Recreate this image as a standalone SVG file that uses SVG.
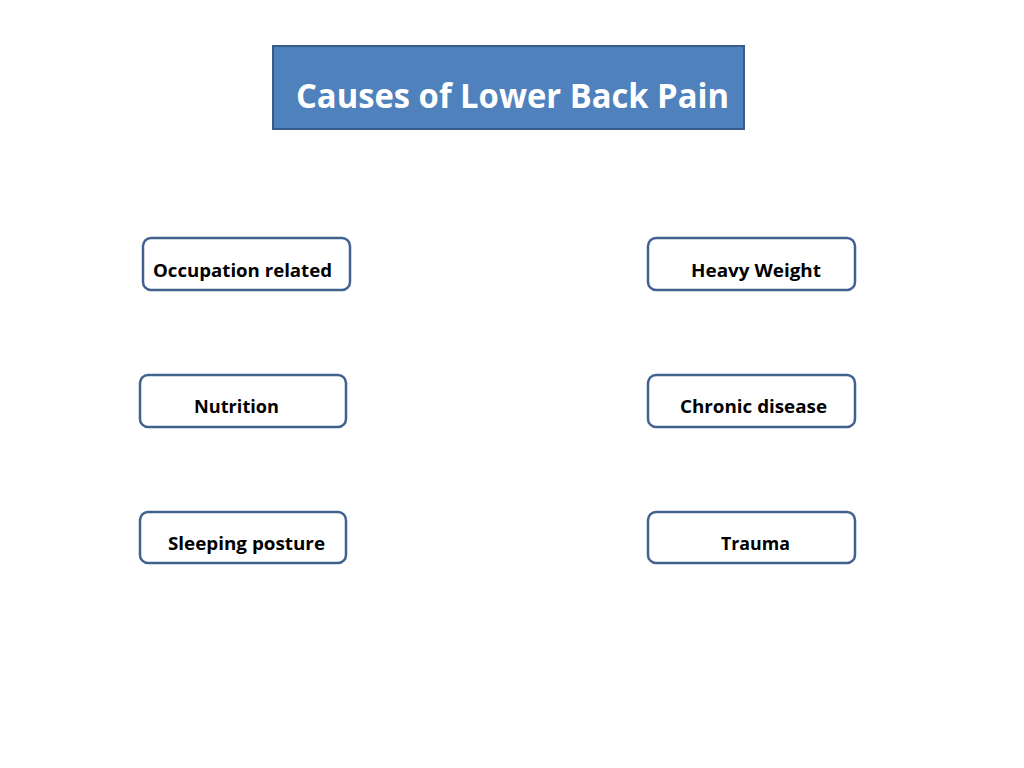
<svg xmlns="http://www.w3.org/2000/svg" width="1024" height="768" viewBox="0 0 1024 768">
<style>
.box{fill:#ffffff;stroke:#41628f;stroke-width:2.5}
.lbl{font-family:"Open Sans","Liberation Sans",sans-serif;font-weight:bold;font-size:18px;fill:#000000}
.title{font-family:"Open Sans","Liberation Sans",sans-serif;font-weight:bold;font-size:34px;fill:#ffffff}
</style>
<rect width="1024" height="768" fill="#ffffff"/>
<g id="title">
<rect x="273" y="46" width="471" height="83" fill="#4f81bd" stroke="#385d8a" stroke-width="2"/>
<text class="title" x="296" y="108" textLength="433" lengthAdjust="spacingAndGlyphs">Causes of Lower Back Pain</text>
</g>
<g id="connectors"></g>
<g id="occupation">
<rect class="box" x="143" y="238" width="207" height="52" rx="8"/>
<text class="lbl" x="153" y="277" textLength="179" lengthAdjust="spacingAndGlyphs">Occupation related</text>
</g>
<g id="heavy">
<rect class="box" x="648" y="238" width="207" height="52" rx="8"/>
<text class="lbl" x="691" y="277" textLength="130" lengthAdjust="spacingAndGlyphs">Heavy Weight</text>
</g>
<g id="nutrition">
<rect class="box" x="140" y="375" width="206" height="52" rx="8"/>
<text class="lbl" x="194" y="413" textLength="85" lengthAdjust="spacingAndGlyphs">Nutrition</text>
</g>
<g id="chronic">
<rect class="box" x="648" y="375" width="207" height="52" rx="8"/>
<text class="lbl" x="680" y="413" textLength="147" lengthAdjust="spacingAndGlyphs">Chronic disease</text>
</g>
<g id="sleeping">
<rect class="box" x="140" y="512" width="206" height="51" rx="8"/>
<text class="lbl" x="168" y="550" textLength="157" lengthAdjust="spacingAndGlyphs">Sleeping posture</text>
</g>
<g id="trauma">
<rect class="box" x="648" y="512" width="207" height="51" rx="8"/>
<text class="lbl" x="721" y="550" textLength="69" lengthAdjust="spacingAndGlyphs">Trauma</text>
</g>
</svg>
